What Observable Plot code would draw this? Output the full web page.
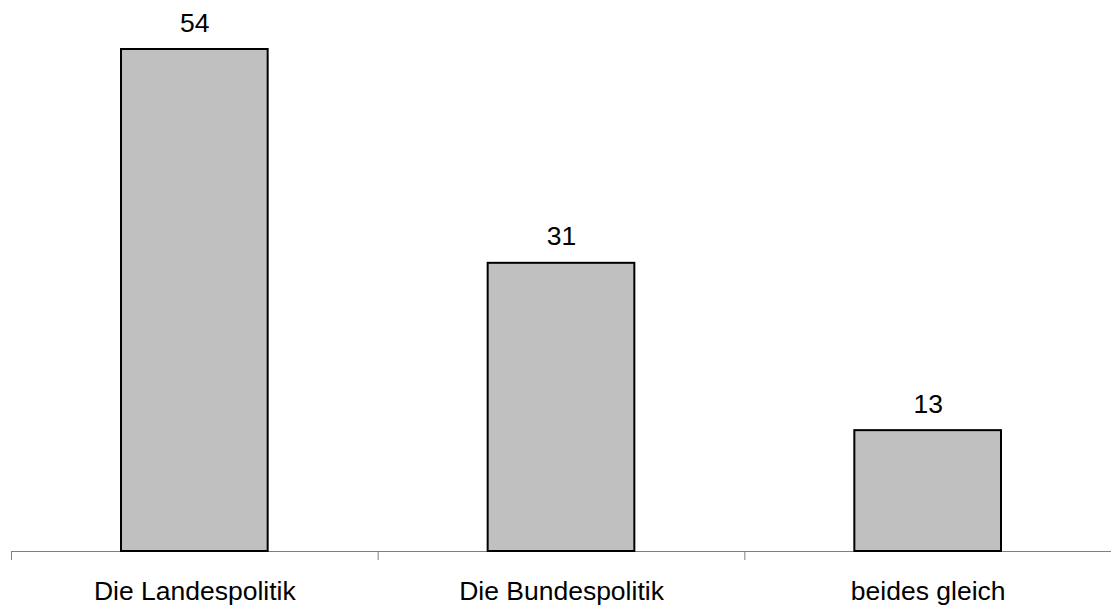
<!DOCTYPE html>
<html>
<head>
<meta charset="utf-8">
<script src="https://cdn.jsdelivr.net/npm/d3@7"></script>
<script src="https://cdn.jsdelivr.net/npm/@observablehq/plot@0.6"></script>
<style>
  html, body { margin: 0; padding: 0; background: #fff; }
  svg { display: block; }
</style>
</head>
<body>
<div id="chart"></div>
<script>
const categories = ["Die Landespolitik", "Die Bundespolitik", "beides gleich"];
const values = [54, 31, 13];

const data = categories.map((c, i) => ({category: c, index: i, value: values[i]}));

const chart = Plot.plot({
  width: 1111,
  height: 608,
  marginLeft: 11,
  marginRight: 0,
  marginTop: 49,
  marginBottom: 57,
  style: {fontFamily: "Arial, 'Liberation Sans', sans-serif", fontSize: "26px", color: "#000", background: "#fff"},
  x: {type: "linear", domain: [0, categories.length], axis: null, label: null},
  y: {domain: [0, 54], axis: null},
  marks: [
    Plot.axisX({ticks: d3.range(categories.length), tickSize: 9, tickFormat: () => "", label: null, stroke: "#808080", strokeOpacity: 1}),
    Plot.ruleY([0], {stroke: "#808080", strokeWidth: 1}),
    Plot.rectY(data, {x1: "index", x2: d => d.index + 1, y: "value", insetLeft: 110, insetRight: 110, fill: "#c0c0c0", stroke: "#000", strokeWidth: 2}),
    Plot.text(data, {x: d => d.index + 0.5, y: "value", text: d => String(d.value), lineAnchor: "bottom", dy: -18, fill: "#000", fontSize: 26.5}),
    Plot.text(data, {x: d => d.index + 0.5, y: () => 0, text: "category", lineAnchor: "bottom", dy: 48, fill: "#000", fontSize: 26.5})
  ]
});
document.getElementById("chart").appendChild(chart);
</script>
</body>
</html>
